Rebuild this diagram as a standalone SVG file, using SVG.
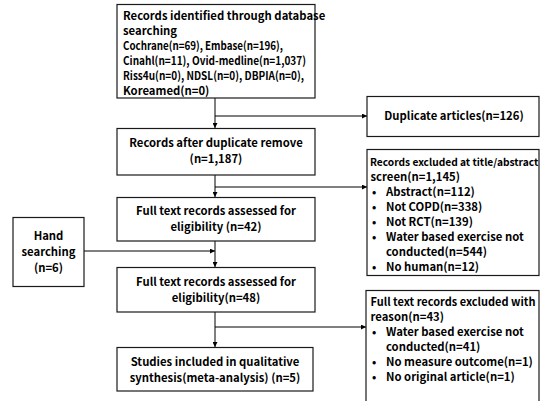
<svg xmlns="http://www.w3.org/2000/svg" width="541" height="401" viewBox="0 0 541 401">
<defs>
<marker id="ah" viewBox="0 0 6 6" refX="6" refY="3" markerWidth="5" markerHeight="5" orient="auto" markerUnits="userSpaceOnUse">
<path d="M0,0 L6,3 L0,6 z" fill="#000"/>
</marker>
<style>
.box{fill:#fff;stroke:#1a1a1a;stroke-width:1.2}
.t{font-family:"Noto Sans CJK KR","Noto Sans",sans-serif;font-size:11.3px;font-weight:bold;fill:#000}
.c{text-anchor:middle}
.ln{fill:none;stroke:#000;stroke-width:1}
</style>
</defs>
<rect width="541" height="401" fill="#fff"/>
<g id="connectors">
<line class="ln" x1="215" y1="98" x2="215" y2="128" marker-end="url(#ah)"/>
<line class="ln" x1="215" y1="116" x2="367" y2="116" marker-end="url(#ah)"/>
<line class="ln" x1="215" y1="175" x2="215" y2="197" marker-end="url(#ah)"/>
<line class="ln" x1="215" y1="187" x2="367" y2="187" marker-end="url(#ah)"/>
<line class="ln" x1="215" y1="241" x2="215" y2="267" marker-end="url(#ah)"/>
<line class="ln" x1="84" y1="251" x2="215" y2="251" marker-end="url(#ah)"/>
<line class="ln" x1="215" y1="312" x2="215" y2="347" marker-end="url(#ah)"/>
<line class="ln" x1="215" y1="327" x2="366" y2="327" marker-end="url(#ah)"/>
</g>
<g id="records-identified">
<rect class="box" x="117" y="4.5" width="198" height="93.5"/>
<text class="t" x="123" y="20">Records identified through database</text>
<text class="t" x="123" y="35">searching</text>
<text class="t" x="123" y="50" textLength="160" lengthAdjust="spacingAndGlyphs">Cochrane(n=69), Embase(n=196),</text>
<text class="t" x="123" y="65" textLength="183" lengthAdjust="spacingAndGlyphs">Cinahl(n=11), Ovid-medline(n=1,037)</text>
<text class="t" x="123" y="80" textLength="181" lengthAdjust="spacingAndGlyphs">Riss4u(n=0), NDSL(n=0), DBPIA(n=0),</text>
<text class="t" x="123" y="95">Koreamed(n=0)</text>
</g>
<g id="duplicate">
<rect class="box" x="367" y="96.5" width="172" height="40"/>
<text class="t c" x="454" y="120">Duplicate articles(n=126)</text>
</g>
<g id="after-duplicate">
<rect class="box" x="117" y="128.5" width="198" height="46.5"/>
<text class="t c" x="216" y="147">Records after duplicate remove</text>
<text class="t c" x="216" y="163">(n=1,187)</text>
</g>
<g id="excluded-title-abstract">
<rect class="box" x="367" y="149.5" width="172" height="126"/>
<text class="t" x="370" y="166" style="font-size:10.2px">Records excluded at title/abstract</text>
<text class="t" x="370.5" y="181">screen(n=1,145)</text>
<text class="t" x="372" y="196">•</text><text class="t" x="386" y="196">Abstract(n=112)</text>
<text class="t" x="372" y="211">•</text><text class="t" x="386" y="211">Not COPD(n=338)</text>
<text class="t" x="372" y="226">•</text><text class="t" x="386" y="226">Not RCT(n=139)</text>
<text class="t" x="372" y="241">•</text><text class="t" x="386" y="241">Water based exercise not</text>
<text class="t" x="386" y="256">conducted(n=544)</text>
<text class="t" x="372" y="271">•</text><text class="t" x="386" y="271">No human(n=12)</text>
</g>
<g id="full-text-42">
<rect class="box" x="117" y="197.5" width="198" height="43.5"/>
<text class="t c" x="216" y="215">Full text records assessed for</text>
<text class="t c" x="216" y="231">eligibility (n=42)</text>
</g>
<g id="hand-searching">
<rect class="box" x="13" y="217.5" width="71" height="69"/>
<text class="t c" x="48.5" y="240">Hand</text>
<text class="t c" x="48.5" y="256">searching</text>
<text class="t c" x="48.5" y="272">(n=6)</text>
</g>
<g id="full-text-48">
<rect class="box" x="117" y="267.5" width="198" height="44.5"/>
<text class="t c" x="216" y="286">Full text records assessed for</text>
<text class="t c" x="216" y="302">eligibility(n=48)</text>
</g>
<g id="full-text-excluded">
<rect class="box" x="366" y="290.5" width="173" height="114"/>
<text class="t" x="370.5" y="306" textLength="165" lengthAdjust="spacingAndGlyphs">Full text records excluded with</text>
<text class="t" x="370.5" y="321">reason(n=43)</text>
<text class="t" x="372" y="336">•</text><text class="t" x="386" y="336">Water based exercise not</text>
<text class="t" x="386" y="351">conducted(n=41)</text>
<text class="t" x="372" y="366">•</text><text class="t" x="386" y="366">No measure outcome(n=1)</text>
<text class="t" x="372" y="381">•</text><text class="t" x="386" y="381">No original article(n=1)</text>
</g>
<g id="studies-included">
<rect class="box" x="117" y="347.5" width="196" height="43.5"/>
<text class="t c" x="215" y="366">Studies included in qualitative</text>
<text class="t c" x="215" y="382">synthesis(meta-analysis) (n=5)</text>
</g>
</svg>
